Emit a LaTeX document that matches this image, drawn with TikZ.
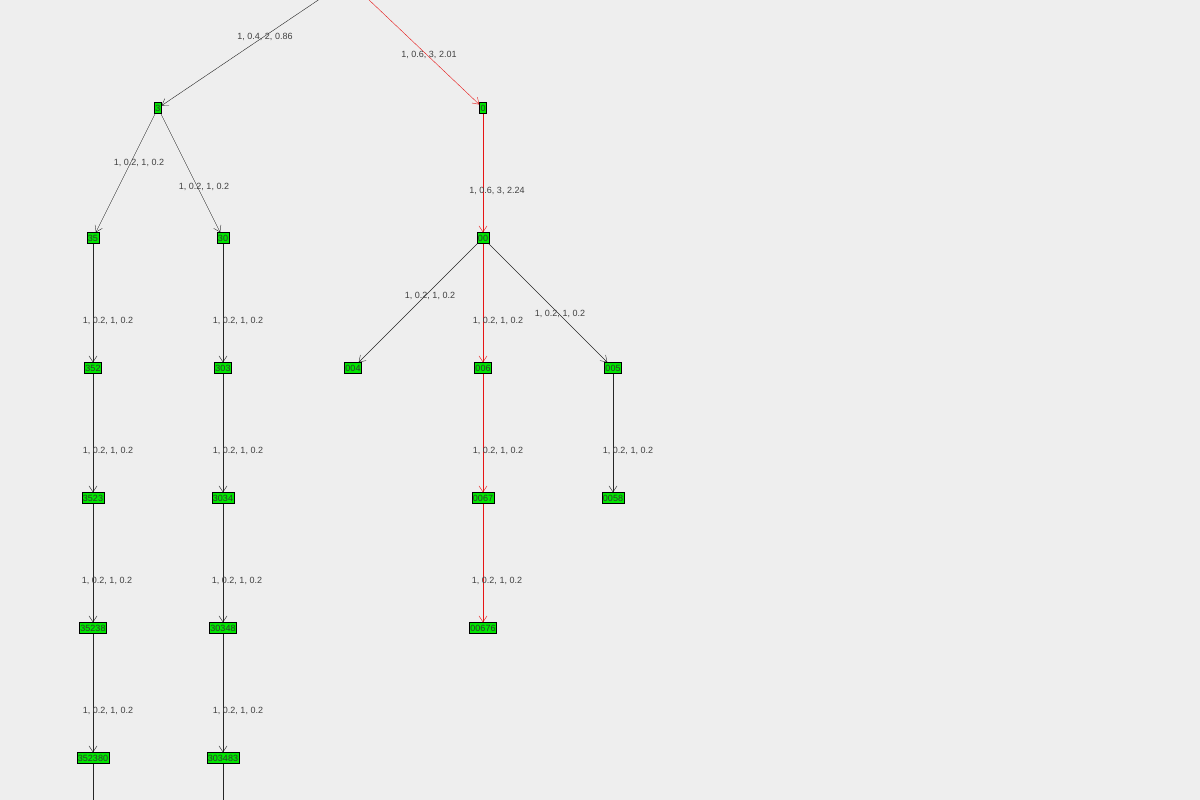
\documentclass[tikz,border=0pt]{standalone}
\usepackage{fontspec}
\setmainfont{Liberation Sans}
\usetikzlibrary{arrows.meta}
\definecolor{bggray}{RGB}{238,238,238}
\definecolor{nodegreen}{RGB}{0,230,0}
\definecolor{pathred}{RGB}{230,20,20}
\tikzset{
  vtx/.style={draw=black, fill=nodegreen, inner sep=1pt, minimum height=11pt, font=\fontsize{9}{9}\selectfont, text=black!80},
  edge/.style={-{Straight Barb[length=6pt,width=8pt]}, draw=black!85, thin},
  hot/.style={edge, draw=pathred},
  lbl/.style={font=\fontsize{9}{9}\selectfont, text=black!75}
}
\begin{document}
\begin{tikzpicture}[x=1pt,y=-1pt]
		\fill [bggray](0,0)rectangle(1200,800);
		\useasboundingbox (0,0)rectangle(1200,800);
		\clip (0,0)rectangle(1200,800);
		\coordinate (root) at (348,-20);
		\node [vtx] (n3) at (158,108) {3};
		\node [vtx] (n0) at (483,108) {0};
		\node [vtx] (n35) at (93,238) {35};
		\node [vtx] (n30) at (223,238) {30};
		\node [vtx] (n00) at (483,238) {00};
		\node [vtx] (n352) at (93,368) {352};
		\node [vtx] (n303) at (223,368) {303};
		\node [vtx] (n004) at (353,368) {004};
		\node [vtx] (n006) at (483,368) {006};
		\node [vtx] (n005) at (613,368) {005};
		\node [vtx] (n3523) at (93,498) {3523};
		\node [vtx] (n3034) at (223,498) {3034};
		\node [vtx] (n0067) at (483,498) {0067};
		\node [vtx] (n0058) at (613,498) {0058};
		\node [vtx] (n35238) at (93,628) {35238};
		\node [vtx] (n30348) at (223,628) {30348};
		\node [vtx] (n00676) at (483,628) {00676};
		\node [vtx] (n352380) at (93,758) {352380};
		\node [vtx] (n303483) at (223,758) {303483};
		\coordinate (endA) at (93,820);
		\coordinate (endB) at (223,820);

		\draw [edge](root)--(n3);
		\draw [hot](root)--(n0);
		\draw [edge](n3)--(n35);
		\draw [edge](n3)--(n30);
		\draw [hot](n0)--(n00);
		\draw [edge](n35)--(n352);
		\draw [edge](n30)--(n303);
		\draw [edge](n00)--(n004);
		\draw [hot](n00)--(n006);
		\draw [edge](n00)--(n005);
		\draw [edge](n352)--(n3523);
		\draw [edge](n303)--(n3034);
		\draw [hot](n006)--(n0067);
		\draw [edge](n005)--(n0058);
		\draw [edge](n3523)--(n35238);
		\draw [edge](n3034)--(n30348);
		\draw [hot](n0067)--(n00676);
		\draw [edge](n35238)--(n352380);
		\draw [edge](n30348)--(n303483);
		\draw [draw=black!85](n352380)--(endA);
		\draw [draw=black!85](n303483)--(endB);

		\node [lbl] (l1) at (265,37) {1, 0.4, 2, 0.86};
		\node [lbl] (l2) at (429,55) {1, 0.6, 3, 2.01};
		\node [lbl] (l3) at (139,163) {1, 0.2, 1, 0.2};
		\node [lbl] (l4) at (204,187) {1, 0.2, 1, 0.2};
		\node [lbl] (l5) at (497,191) {1, 0.6, 3, 2.24};
		\node [lbl] (l6) at (430,296) {1, 0.2, 1, 0.2};
		\node [lbl] (l7) at (498,321) {1, 0.2, 1, 0.2};
		\node [lbl] (l8) at (560,314) {1, 0.2, 1, 0.2};
		\foreach \x/\y in {108/321, 238/321, 108/451, 238/451, 498/451, 628/451, 107/581, 237/581, 497/581, 108/711, 238/711}
			\node [lbl] at (\x,\y) {1, 0.2, 1, 0.2};
	\end{tikzpicture}
\end{document}
